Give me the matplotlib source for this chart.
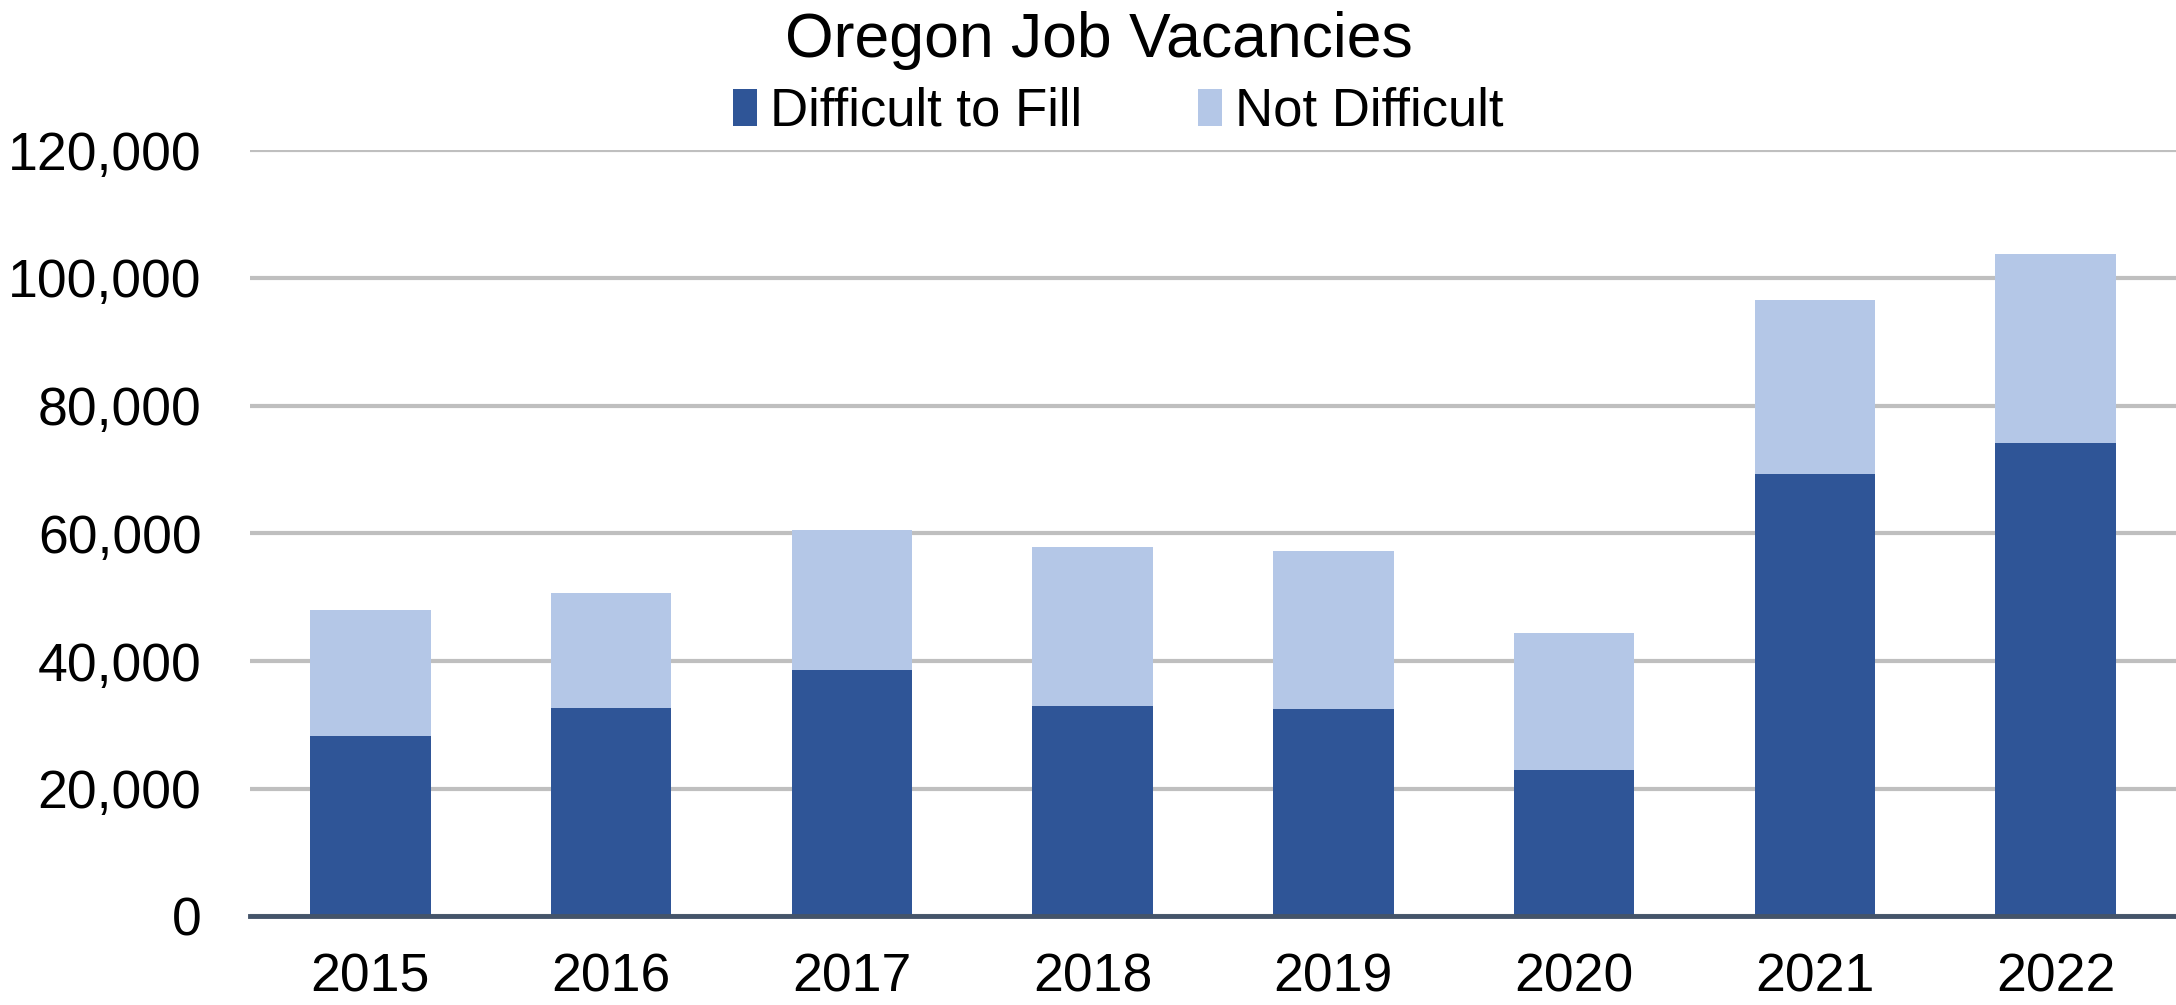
import numpy as np
import matplotlib.pyplot as plt
from matplotlib.ticker import FuncFormatter

# data
years = ["2015", "2016", "2017", "2018", "2019", "2020", "2021", "2022"]
difficult = [28300, 32700, 38600, 32900, 32450, 22900, 69350, 74200]
not_difficult = [19700, 17950, 21900, 25000, 24750, 21450, 27250, 29500]

dark = "#2F5597"
light = "#B4C7E7"

plt.rcParams['font.family'] = ['Liberation Sans', 'DejaVu Sans']

fig = plt.figure(figsize=(21.76, 10.05), dpi=100)
ax = fig.add_axes([250/2176, 1-916.4/1005, 1-250/2176, (916.4-150.2)/1005])

x = np.arange(len(years))
ax.bar(x, difficult, width=0.5, color=dark, label="Difficult to Fill", zorder=3)
ax.bar(x, not_difficult, width=0.5, bottom=difficult, color=light,
       label="Not Difficult", zorder=3)

ax.set_xlim(-0.5, len(years) - 0.5)
ax.set_ylim(0, 120000)
ax.set_yticks(np.arange(0, 120001, 20000))
ax.yaxis.set_major_formatter(FuncFormatter(lambda v, p: f"{int(v):,}"))
ax.set_xticks(x)
ax.set_xticklabels(years)

ax.grid(axis="y", color="#BFBFBF", linewidth=3, zorder=0)
for s in ["top", "right", "left"]:
    ax.spines[s].set_visible(False)
ax.spines["bottom"].set_color("#44546A")
ax.spines["bottom"].set_linewidth(3.5)
ax.spines["bottom"].set_zorder(4)

ax.tick_params(axis="y", length=0, pad=35, labelsize=38.5)
ax.tick_params(axis="x", length=0, pad=26, labelsize=38.5)

fig.text(0.505, 0.96, "Oregon Job Vacancies", ha="center", va="center", fontsize=45)
fig.legend(loc="center", bbox_to_anchor=(0.514, 0.889), ncol=2, frameon=False,
           fontsize=38, handlelength=0.45, handleheight=0.7, handletextpad=0.25,
           columnspacing=2.2)

plt.savefig("out.png", dpi=100)
